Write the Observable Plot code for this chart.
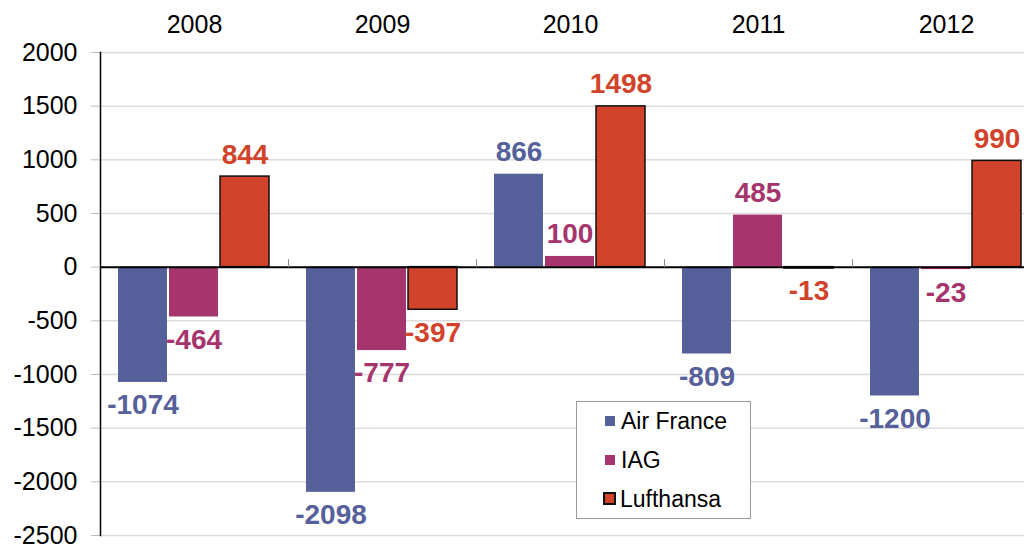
<!DOCTYPE html>
<html><head><meta charset="utf-8">
<script src="https://cdn.jsdelivr.net/npm/d3@7"></script>
<script src="https://cdn.jsdelivr.net/npm/@observablehq/plot@0.6"></script>
<style>
body{margin:0;background:#fff;}
#wrap{position:relative;width:1024px;height:544px;font-family:"Liberation Sans",Arial,sans-serif;overflow:hidden;}
#legend{position:absolute;left:576px;top:401px;width:175px;height:118px;border:1px solid #9a9a9a;background:#fff;box-sizing:border-box;}
#legend .item{height:39px;line-height:39px;font-size:23px;color:#000;padding-left:28px;white-space:nowrap;}
#legend .sw{display:inline-block;width:10px;height:10px;margin-right:6px;vertical-align:middle;position:relative;top:-2px;box-sizing:border-box;}
</style>
</head><body>
<div id="wrap"><div id="chart"></div><div id="legend"></div></div>
<script>
const years = ["2008", "2009", "2010", "2011", "2012"];
const airlines = ["Air France", "IAG", "Lufthansa"];
const airFrance = [-1074, -2098, 866, -809, -1200];
const iag = [-464, -777, 100, 485, -23];
const lufthansa = [844, -397, 1498, -13, 990];
const yTicks = [-2500, -2000, -1500, -1000, -500, 0, 500, 1000, 1500, 2000];
const fills = ["#56609a", "#a6356d", "#d1432a"];

const series = [airFrance, iag, lufthansa];
const rows = [];
years.forEach((yr, i) => airlines.forEach((a, j) => rows.push({year: yr, airline: a, value: series[j][i]})));

const font = '"Liberation Sans", Arial, sans-serif';
const tickMark = {draw(ctx) { ctx.moveTo(0, 0); ctx.lineTo(0, -8); }};

const chart = Plot.plot({
  width: 1024, height: 544,
  marginLeft: 99, marginRight: -16, marginTop: 52, marginBottom: 9,
  style: {fontFamily: font, fontSize: "25px", color: "#000", background: "transparent", overflow: "visible"},
  fx: {domain: years, padding: 0, label: null},
  x: {domain: airlines, paddingInner: 0.03, paddingOuter: 0.33, axis: null},
  y: {domain: [-2500, 2000], axis: null},
  color: {domain: airlines, range: fills},
  marks: [
    Plot.ruleY(yTicks, {stroke: "#dcdcdc", strokeWidth: 1.5}),
    Plot.axisFx({anchor: "top", tickSize: 0, tickPadding: 20, label: null, fontSize: 25}),
    Plot.axisY({ticks: yTicks, tickFormat: d => String(d), tickSize: 9, tickPadding: 14, stroke: "#bbb", fill: "#000", fontSize: 25, label: null}),
    Plot.barY(rows, {filter: d => d.airline !== "Lufthansa", fx: "year", x: "airline", y: "value", fill: "airline"}),
    Plot.barY(rows, {filter: d => d.airline === "Lufthansa", fx: "year", x: "airline", y: "value", fill: "airline", stroke: "#111", strokeWidth: 1.5}),
    Plot.ruleY([0], {stroke: "#000", strokeWidth: 2}),
    Plot.dot(years.slice(1), {fx: d => d, y: () => 0, frameAnchor: "left", symbol: tickMark, stroke: "#888", strokeWidth: 1, r: 4}),
    Plot.frame({anchor: "left", stroke: "#000", strokeWidth: 1.5, facetAnchor: "left"}),
    Plot.text(rows, {filter: d => d.value >= 0, fx: "year", x: "airline", y: "value", text: d => String(d.value), fill: "airline", fontWeight: "bold", fontSize: 28, lineAnchor: "bottom", dy: -13}),
    Plot.text(rows, {filter: d => d.value < 0, fx: "year", x: "airline", y: "value", text: d => String(d.value), fill: "airline", fontWeight: "bold", fontSize: 28, lineAnchor: "top", dy: 12})
  ]
});
document.getElementById("chart").appendChild(chart);

const legend = document.getElementById("legend");
airlines.forEach((a, j) => {
  const item = document.createElement("div");
  item.className = "item";
  const sw = document.createElement("span");
  sw.className = "sw";
  sw.style.background = fills[j];
  if (a === "Lufthansa") { sw.style.border = "2px solid #111"; sw.style.width = "13px"; sw.style.height = "13px"; sw.style.marginLeft = "-2px"; sw.style.marginRight = "4px"; }
  item.appendChild(sw);
  item.appendChild(document.createTextNode(a));
  legend.appendChild(item);
});
</script>
</body></html>
